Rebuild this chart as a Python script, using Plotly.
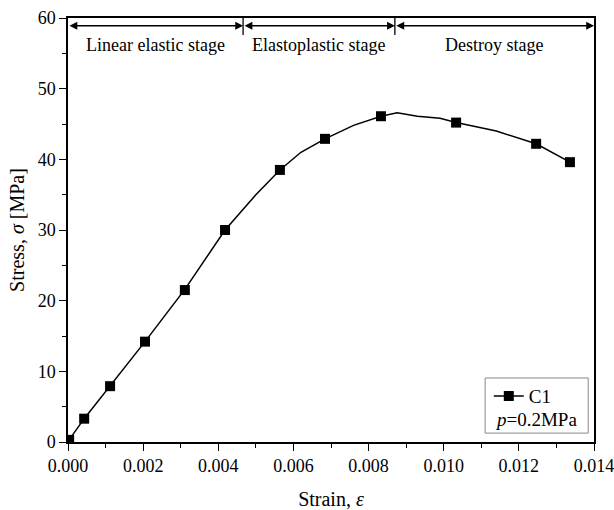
import plotly.graph_objects as go

# Marker points
strain_pts = [0.00003, 0.00043, 0.00112, 0.00205, 0.00311, 0.00418, 0.00564, 0.00684, 0.00833, 0.01033, 0.01246, 0.01336]
stress_pts = [0.3, 3.3, 7.9, 14.2, 21.5, 30.0, 38.5, 42.9, 46.1, 45.2, 42.2, 39.6]

# Curve points
strain_line = [0.0, 0.00003, 0.00043, 0.0008, 0.00112, 0.00205, 0.00311, 0.00418, 0.0050, 0.00564, 0.0062,
               0.00684, 0.0076, 0.00833, 0.00876, 0.0093, 0.0099, 0.01033, 0.0114, 0.01246, 0.01336]
stress_line = [0.0, 0.3, 3.3, 5.8, 7.9, 14.2, 21.6, 30.0, 35.0, 38.5, 41.0,
               42.9, 44.8, 46.1, 46.6, 46.1, 45.8, 45.2, 44.0, 42.2, 39.6]

stage_bounds = [0.0, 0.00466, 0.0087, 0.014]
stage_names = ["Linear elastic stage", "Elastoplastic stage", "Destroy stage"]

FONT = "Liberation Serif, Times New Roman, serif"

fig = go.Figure()
fig.add_trace(go.Scatter(x=strain_line, y=stress_line, mode="lines",
                         line=dict(color="black", width=1.5), showlegend=False, hoverinfo="skip"))
fig.add_trace(go.Scatter(x=strain_pts, y=stress_pts, mode="markers", name="C1",
                         marker=dict(symbol="square", size=10, color="black"), showlegend=False))
# legend entry
fig.add_trace(go.Scatter(x=[None], y=[None], mode="lines+markers", name="C1",
                         line=dict(color="black", width=1.5),
                         marker=dict(symbol="square", size=10, color="black")))

arrow_y = 58.9
for i, name in enumerate(stage_names):
    x0, x1 = stage_bounds[i], stage_bounds[i + 1]
    fig.add_annotation(x=x1, y=arrow_y, ax=x0, ay=arrow_y, xref="x", yref="y", axref="x", ayref="y",
                       text="", showarrow=True, arrowhead=2, arrowside="end+start",
                       arrowsize=1.2, arrowwidth=1.3, arrowcolor="black", standoff=0, startstandoff=0)
    fig.add_annotation(x=(x0 + x1) / 2, y=56.2, xref="x", yref="y", text=name, showarrow=False,
                       xanchor="center", yanchor="middle",
                       font=dict(family=FONT, size=18, color="black"))
for b in stage_bounds[1:-1]:
    fig.add_shape(type="line", x0=b, x1=b, y0=60, y1=57.6, xref="x", yref="y",
                  line=dict(color="black", width=1.3))

# legend box
fig.add_shape(type="rect", xref="paper", yref="paper", x0=0.793, x1=0.989, y0=0.021, y1=0.151,
              line=dict(color="#888888", width=1))
fig.add_annotation(x=0.889, y=0.052, xref="paper", yref="paper", text="<i>p</i>=0.2MPa",
                   xanchor="center", yanchor="middle",
                   showarrow=False, font=dict(family=FONT, size=19, color="black"))

tickfont = dict(family=FONT, size=18, color="black")
fig.update_layout(
    width=614, height=510,
    margin=dict(l=68, r=20, t=18, b=68),
    paper_bgcolor="white", plot_bgcolor="white",
    font=dict(family=FONT, size=18, color="black"),
    legend=dict(x=0.80, y=0.153, xanchor="left", yanchor="top", bgcolor="rgba(0,0,0,0)",
                font=dict(family=FONT, size=19), itemwidth=30, tracegroupgap=0),
    xaxis=dict(range=[0, 0.014], dtick=0.002, tickformat=".3f", showgrid=False, zeroline=False,
               automargin=False, tickfont=tickfont, ticklabeloverflow="allow",
               showline=True, linecolor="black", linewidth=1.5, mirror=True,
               ticks="outside", ticklen=7, tickwidth=1.3, tickcolor="black",
               minor=dict(dtick=0.001, ticks="outside", ticklen=4, tickwidth=1.3, tickcolor="black"),
               title=dict(text="Strain, <i>ε</i>", font=dict(family=FONT, size=20), standoff=24)),
    yaxis=dict(range=[0, 60], dtick=10, showgrid=False, zeroline=False,
               automargin=False, tickfont=tickfont, ticklabeloverflow="allow",
               showline=True, linecolor="black", linewidth=1.5, mirror=True,
               ticks="outside", ticklen=7, tickwidth=1.3, tickcolor="black",
               minor=dict(dtick=5, ticks="outside", ticklen=4, tickwidth=1.3, tickcolor="black"),
               title=dict(text="Stress, <i>σ</i> [MPa]", font=dict(family=FONT, size=20), standoff=8)),
)

fig.write_html("out.html")
